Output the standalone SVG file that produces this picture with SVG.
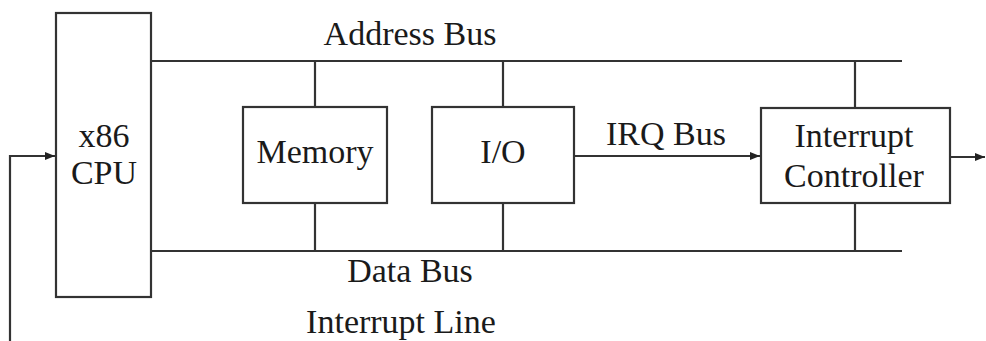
<svg xmlns="http://www.w3.org/2000/svg" width="986" height="341" viewBox="0 0 986 341">
<style>
.box{fill:#fff;stroke:#333;stroke-width:2.2}
.ln{fill:none;stroke:#333;stroke-width:2.2}
text{font-family:"Liberation Serif","Times New Roman",serif;font-size:34px;fill:#1a1a1a;text-anchor:middle}
</style>
<defs>
<marker id="arr" viewBox="0 0 10 8" refX="10" refY="4" markerWidth="10" markerHeight="8" markerUnits="userSpaceOnUse" orient="auto">
<path d="M0,0 L10,4 L0,8 Z" fill="#222"/>
</marker>
</defs>
<rect width="986" height="341" fill="#fff"/>
<g id="connectors">
<path class="ln" d="M151,61 H902"/>
<path class="ln" d="M151,251 H902"/>
<path class="ln" d="M315,61 V107 M315,203 V251"/>
<path class="ln" d="M503,61 V107 M503,203 V251"/>
<path class="ln" d="M855,61 V108 M855,203 V251"/>
<path class="ln" d="M574,156 H760" marker-end="url(#arr)"/>
<path class="ln" d="M950,157 H985" marker-end="url(#arr)"/>
<path class="ln" d="M10,341 V156 H55" marker-end="url(#arr)"/>
<text x="410" y="45">Address Bus</text>
<text x="410" y="282">Data Bus</text>
<text x="401" y="333">Interrupt Line</text>
<text x="666" y="145">IRQ Bus</text>
</g>
<g id="cpu">
<rect class="box" x="56" y="13" width="95" height="284"/>
<text x="104" y="147">x86</text>
<text x="104" y="184">CPU</text>
</g>
<g id="memory">
<rect class="box" x="243" y="107" width="144" height="96"/>
<text x="315" y="163">Memory</text>
</g>
<g id="io">
<rect class="box" x="432" y="107" width="142" height="96"/>
<text x="503" y="163">I/O</text>
</g>
<g id="interrupt-controller">
<rect class="box" x="761" y="108" width="189" height="95"/>
<text x="854" y="147">Interrupt</text>
<text x="854" y="187">Controller</text>
</g>
</svg>
